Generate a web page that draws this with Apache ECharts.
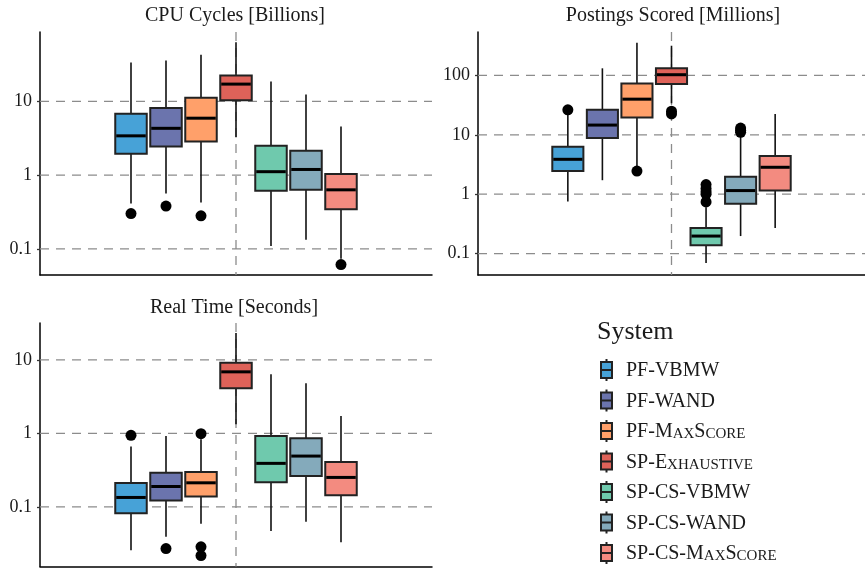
<!DOCTYPE html>
<html>
<head>
<meta charset="utf-8">
<title>System comparison</title>
<script src="https://cdn.jsdelivr.net/npm/echarts@6/dist/echarts.min.js"></script>
<style>
  html, body { margin: 0; padding: 0; background: #fff; }
  #chart { width: 865px; height: 569px; }
</style>
</head>
<body>
<div id="chart"></div>
<script>
var systems = ['PF-VBMW', 'PF-WAND', 'PF-MaxScore', 'SP-Exhaustive', 'SP-CS-VBMW', 'SP-CS-WAND', 'SP-CS-MaxScore'];
var systemColors = ['#47a2d7', '#6b74ad', '#ffa06a', '#de6259', '#6fc9ad', '#84aabb', '#f38b80'];

// one row per system: [lower whisker, Q1, median, Q3, upper whisker]
var cpuBoxes = [
  [0.41, 1.95, 3.4, 6.8, 33.7],
  [0.56, 2.43, 4.3, 8.1, 35.6],
  [0.425, 2.84, 5.9, 11.2, 42.9],
  [3.26, 10.3, 17.1, 22.4, 63],
  [0.109, 0.61, 1.11, 2.5, 18.6],
  [0.133, 0.63, 1.19, 2.14, 12.4],
  [0.073, 0.344, 0.63, 1.03, 4.55]
];
// [system number (1..7), value]
var cpuOutliers = [[1, 0.30], [2, 0.38], [3, 0.28], [7, 0.061]];

var postingsBoxes = [
  [0.75, 2.47, 3.87, 6.3, 22],
  [1.72, 8.85, 14.6, 26.4, 132],
  [2.9, 19.6, 39.9, 73, 356],
  [34, 72, 103, 132, 317],
  [0.069, 0.138, 0.197, 0.269, 0.6],
  [0.197, 0.69, 1.15, 1.96, 9.4],
  [0.27, 1.15, 2.84, 4.4, 22.4]
];
var postingsOutliers = [
  [1, 26.4], [3, 2.45], [4, 22.5], [4, 25],
  [5, 0.74], [5, 1.0], [5, 1.1], [5, 1.25], [5, 1.45],
  [6, 11.0], [6, 12.0], [6, 13.0]
];

var timeBoxes = [
  [0.0256, 0.082, 0.134, 0.21, 0.66],
  [0.039, 0.122, 0.189, 0.29, 0.92],
  [0.059, 0.138, 0.212, 0.297, 0.83],
  [1.33, 4.11, 6.86, 9.1, 23.1],
  [0.047, 0.215, 0.39, 0.92, 6.38],
  [0.0624, 0.262, 0.49, 0.855, 4.81],
  [0.0329, 0.144, 0.251, 0.406, 1.72]
];
var timeOutliers = [[1, 0.94], [2, 0.027], [3, 0.99], [3, 0.0285], [3, 0.0217]];

var cpuTicks = [0.1, 1, 10];
var postingsTicks = [0.1, 1, 10, 100];
var timeTicks = [0.1, 1, 10];

var FONT = "'Liberation Serif', 'DejaVu Serif', serif";
var TEXT_COLOR = '#1a1a1a';
var X_MIN = -1.6, X_MAX = 9.6, X_MID = 4, BOX_HALF = 0.45;

var panels = [
  { title: 'CPU Cycles [Billions]', boxes: cpuBoxes, outliers: cpuOutliers, ticks: cpuTicks,
    min: 0.0441, max: 87, grid: { left: 40, top: 32, width: 392, height: 243 }, titlePos: [235, 6] },
  { title: 'Postings Scored [Millions]', boxes: postingsBoxes, outliers: postingsOutliers, ticks: postingsTicks,
    min: 0.0435, max: 540, grid: { left: 478, top: 32, width: 392, height: 243 }, titlePos: [673, 6] },
  { title: 'Real Time [Seconds]', boxes: timeBoxes, outliers: timeOutliers, ticks: timeTicks,
    min: 0.0154, max: 31.7, grid: { left: 40, top: 323, width: 392, height: 243.5 }, titlePos: [234, 298] }
];

function dashed() {
  return { stroke: '#8c8c8c', lineWidth: 1.3, lineDash: [9, 7] };
}

function renderHLine(params, api) {
  var cs = params.coordSys;
  var y = api.coord([X_MID, api.value(1)])[1];
  return { type: 'line', shape: { x1: cs.x, y1: y, x2: cs.x + cs.width, y2: y }, style: dashed() };
}

function renderVLine(params, api) {
  var cs = params.coordSys;
  var x = api.coord([api.value(0), api.value(1)])[0];
  return { type: 'line', shape: { x1: x, y1: cs.y, x2: x, y2: cs.y + cs.height }, style: dashed() };
}

function renderBox(params, api) {
  var x = api.value(0);
  var low = api.coord([x, api.value(1)]);
  var q1 = api.coord([x, api.value(2)]);
  var med = api.coord([x, api.value(3)]);
  var q3 = api.coord([x, api.value(4)]);
  var high = api.coord([x, api.value(5)]);
  var half = api.coord([x + BOX_HALF, api.value(3)])[0] - med[0];
  return {
    type: 'group',
    children: [
      { type: 'line', shape: { x1: low[0], y1: low[1], x2: q1[0], y2: q1[1] }, style: { stroke: '#111', lineWidth: 1.6 } },
      { type: 'line', shape: { x1: q3[0], y1: q3[1], x2: high[0], y2: high[1] }, style: { stroke: '#111', lineWidth: 1.6 } },
      { type: 'rect', shape: { x: q3[0] - half, y: q3[1], width: half * 2, height: q1[1] - q3[1] },
        style: { fill: api.visual('color'), stroke: '#222', lineWidth: 2 } },
      { type: 'line', shape: { x1: med[0] - half + 1, y1: med[1], x2: med[0] + half - 1, y2: med[1] },
        style: { stroke: '#000', lineWidth: 3 } }
    ]
  };
}

// lower-case runs are shown as small capitals
function smallCaps(name) {
  return name.replace(/[a-z]+|[^a-z]+/g, function (part) {
    return /[a-z]/.test(part) ? '{s|' + part.toUpperCase() + '}' : '{n|' + part + '}';
  });
}

var grids = [], xAxes = [], yAxes = [], titles = [], series = [];

panels.forEach(function (p, k) {
  grids.push(p.grid);
  titles.push({
    text: p.title, left: p.titlePos[0], top: p.titlePos[1], textAlign: 'center', padding: 0,
    textStyle: { fontFamily: FONT, fontSize: 20, fontWeight: 'normal', color: TEXT_COLOR }
  });
  xAxes.push({
    gridIndex: k, type: 'value', min: X_MIN, max: X_MAX,
    axisLine: { show: true, onZero: false, lineStyle: { color: '#000', width: 1.5 } },
    axisTick: { show: false }, axisLabel: { show: false }, splitLine: { show: false }
  });
  yAxes.push({
    gridIndex: k, type: 'log', logBase: 10, min: p.min, max: p.max,
    axisLine: { show: true, onZero: false, lineStyle: { color: '#000', width: 1.5 } },
    axisTick: { show: true, length: 3, customValues: p.ticks, lineStyle: { color: '#333', width: 1.3 } },
    axisLabel: {
      customValues: p.ticks, margin: 8, fontFamily: FONT, fontSize: 18, color: TEXT_COLOR,
      formatter: function (v) { return String(+(+v).toPrecision(6)); }
    },
    splitLine: { show: false }
  });

  series.push({
    type: 'custom', xAxisIndex: k, yAxisIndex: k, z: 1, silent: true,
    renderItem: renderHLine,
    data: p.ticks.map(function (t) { return [X_MID, t]; })
  });
  series.push({
    type: 'custom', xAxisIndex: k, yAxisIndex: k, z: 1, silent: true,
    renderItem: renderVLine,
    data: [[X_MID, 1]]
  });

  systems.forEach(function (name, i) {
    series.push({
      name: name, type: 'custom', xAxisIndex: k, yAxisIndex: k, z: 2,
      itemStyle: { color: systemColors[i], borderColor: '#222', borderWidth: 1.6 },
      encode: { x: 0, y: [1, 2, 3, 4, 5] },
      renderItem: renderBox,
      data: [[i + 1].concat(p.boxes[i])]
    });
  });

  series.push({
    type: 'scatter', xAxisIndex: k, yAxisIndex: k, z: 3, silent: true,
    symbolSize: 11, itemStyle: { color: '#000', opacity: 1 },
    data: p.outliers
  });
});

titles.push({
  text: 'System', left: 597, top: 319, padding: 0,
  textStyle: { fontFamily: FONT, fontSize: 26, fontWeight: 'normal', color: TEXT_COLOR }
});

var chart = echarts.init(document.getElementById('chart'), null, { renderer: 'canvas' });
chart.setOption({
  animation: false,
  backgroundColor: '#fff',
  title: titles,
  grid: grids,
  xAxis: xAxes,
  yAxis: yAxes,
  legend: {
    data: systems,
    orient: 'vertical',
    left: 600, top: 358, height: 260, padding: 0,
    itemWidth: 11, itemHeight: 22, itemGap: 6.5,
    selectedMode: false,
    icon: 'path://M5.5,0V3M0,3H11V19H0ZM0,11H11M5.5,19V22',
    formatter: smallCaps,
    textStyle: {
      color: TEXT_COLOR,
      padding: [0, 0, 0, 9],
      rich: {
        n: { fontFamily: FONT, fontSize: 20, lineHeight: 22, color: TEXT_COLOR, verticalAlign: 'bottom' },
        s: { fontFamily: FONT, fontSize: 15, lineHeight: 22, color: TEXT_COLOR, verticalAlign: 'bottom' }
      }
    }
  },
  series: series
});
</script>
</body>
</html>
